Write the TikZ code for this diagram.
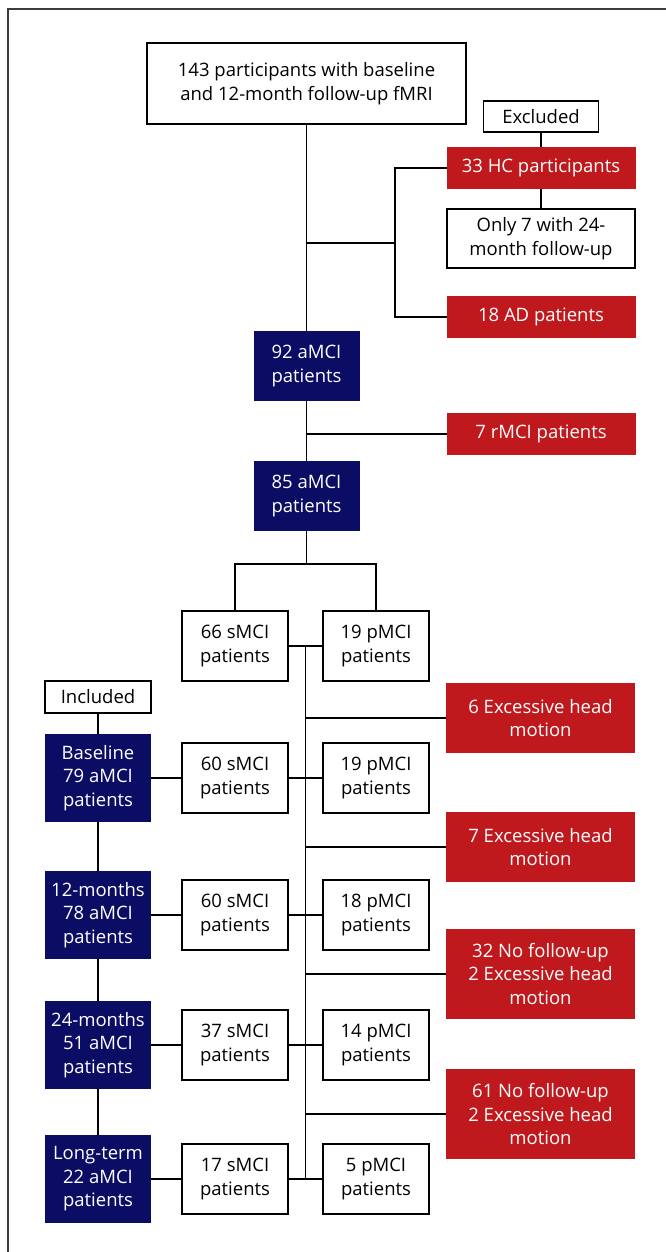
\documentclass[tikz,border=0pt]{standalone}
\usepackage{fontspec}
\setmainfont{Open Sans}
\definecolor{exred}{RGB}{191,25,29}
\definecolor{inblue}{RGB}{11,13,101}
\definecolor{framegray}{RGB}{60,60,60}
\begin{document}
\begin{tikzpicture}[x=1pt,y=-1pt,
  base/.style={font=\fontsize{18.5}{23.5}\selectfont, align=center, inner sep=0pt, outer sep=0pt, anchor=center},
  wbox/.style={base, draw=black, line width=1.3pt, fill=white},
  rbox/.style={base, fill=exred, text=white, minimum width=189pt},
  bbox/.style={base, fill=inblue, text=white, minimum width=106pt},
  cbox/.style={wbox, minimum width=106pt, minimum height=70pt},
  conn/.style={draw=black, line width=1.3pt}]
\useasboundingbox (0,0) rectangle (666,1252);
% frame
\draw[framegray, line width=1.6pt] (8,1252) -- (8,9) -- (666,9);
% top part
\node[wbox, minimum width=319pt, minimum height=81pt] (top) at (306.5,83.5) {143 participants with baseline\\and 12-month follow-up fMRI};
\node[wbox, minimum width=115pt, minimum height=31pt] (excl) at (541,116.5) {Excluded};
\node[rbox, minimum height=42pt] (hc) at (541,168) {33 HC participants};
\node[wbox, minimum width=188pt, minimum height=59pt] (only) at (541,238.5) {Only 7 with 24-\\month follow-up};
\node[rbox, minimum height=42pt] (ad) at (541,317) {18 AD patients};
\node[bbox, minimum height=70pt] (m92) at (306.5,366) {92 aMCI\\patients};
\node[rbox, minimum height=42pt] (rmci) at (541,434) {7 rMCI patients};
\node[bbox, minimum height=70pt] (m85) at (306.5,496) {85 aMCI\\patients};
\node[cbox] (s66) at (235,646) {66 sMCI\\patients};
\node[cbox] (p19) at (376,646) {19 pMCI\\patients};
% included column
\node[wbox, minimum width=106pt, minimum height=32pt] (incl) at (98,697) {Included};
\node[bbox, minimum height=88pt] (bl) at (98,778) {Baseline\\79 aMCI\\patients};
\node[bbox, minimum height=88pt] (m12) at (98,915) {12-months\\78 aMCI\\patients};
\node[bbox, minimum height=88pt] (m24) at (98,1045) {24-months\\51 aMCI\\patients};
\node[bbox, minimum height=88pt] (lt) at (98,1179) {Long-term\\22 aMCI\\patients};
\node[cbox] (s60a) at (235,778) {60 sMCI\\patients};
\node[cbox] (p19b) at (376,778) {19 pMCI\\patients};
\node[cbox] (s60b) at (235,915) {60 sMCI\\patients};
\node[cbox] (p18) at (376,915) {18 pMCI\\patients};
\node[cbox] (s37) at (235,1045) {37 sMCI\\patients};
\node[cbox] (p14) at (376,1045) {14 pMCI\\patients};
\node[cbox] (s17) at (235,1179) {17 sMCI\\patients};
\node[cbox] (p5) at (376,1179) {5 pMCI\\patients};
% exclusion boxes
\node[rbox, minimum height=70pt] (ex6) at (540.5,718) {6 Excessive head\\motion};
\node[rbox, minimum height=70pt] (ex7) at (540.5,847) {7 Excessive head\\motion};
\node[rbox, minimum height=90pt] (ex32) at (540.5,974) {32 No follow-up\\2 Excessive head\\motion};
\node[rbox, minimum height=90pt] (ex61) at (540.5,1114) {61 No follow-up\\2 Excessive head\\motion};
% coordinates
\coordinate (j1) at (306.5,243);
\coordinate (bx) at (395,243);
\coordinate (j2) at (306.5,434);
\coordinate (j3) at (306.5,564);
\coordinate (c0) at (305.5,646);
\coordinate (c1) at (305.5,1179);
% connectors
\draw[conn] (top) -- (m92);
\draw[conn] (j1) -- (bx);
\draw[conn] (hc.west) -| (bx) |- (ad.west);
\draw[conn] (excl) -- (hc);
\draw[conn] (hc) -- (only);
\draw[conn] (m92) -- (m85);
\draw[conn] (j2) -- (rmci.west);
\draw[conn] (m85.south) -- (j3);
\draw[conn] (s66.north) |- (j3) -| (p19.north);
\draw[conn] (s66.east) -- (p19.west);
\draw[conn] (c0) -- (c1);
\draw[conn] (incl) -- (bl);
\draw[conn] (bl) -- (m12);
\draw[conn] (m12) -- (m24);
\draw[conn] (m24) -- (lt);
\foreach \a/\b/\c in {bl/s60a/p19b, m12/s60b/p18, m24/s37/p14, lt/s17/p5}{
  \draw[conn] (\a.east) -- (\b.west);
  \draw[conn] (\b.east) -- (\c.west);
}
\foreach \e in {ex6, ex7, ex32, ex61}{
  \draw[conn] (\e.west -| c0) -- (\e.west);
}
\end{tikzpicture}
\end{document}
